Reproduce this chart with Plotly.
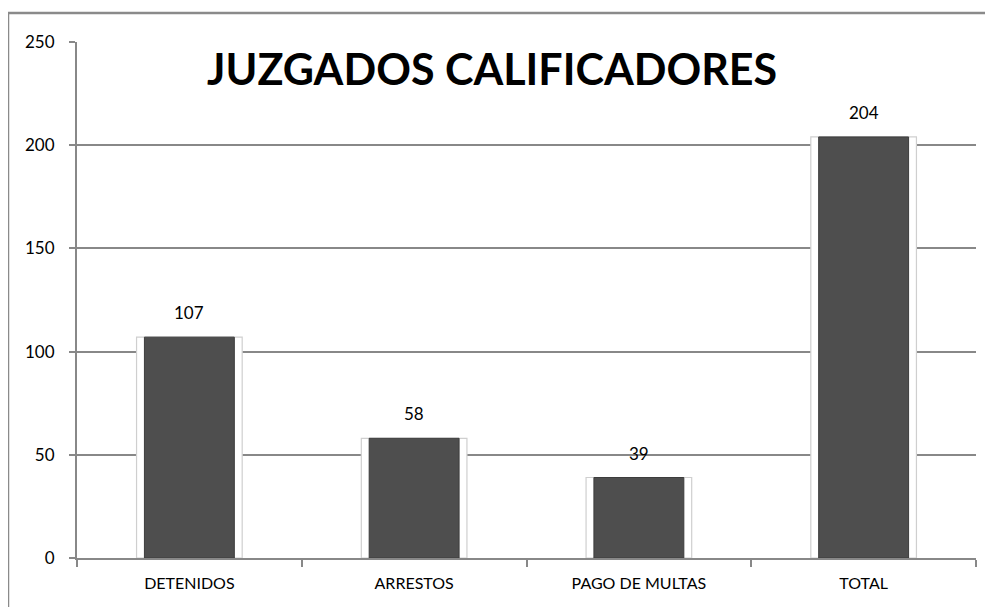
import plotly.graph_objects as go

categories = ["DETENIDOS", "ARRESTOS", "PAGO DE MULTAS", "TOTAL"]
values = [107, 58, 39, 204]
y_ticks = [0, 50, 100, 150, 200, 250]
title_text = "JUZGADOS CALIFICADORES"

FONT = "Lato, 'Open Sans', sans-serif"

# page offset from default body margin
OFF = 8
W, H = 993 - OFF, 607 - OFF
l, r, t, b = 77 - OFF, (W + OFF) - 976, 42 - OFF, (H + OFF) - 558
pw, ph = W - l - r, H - t - b

fig = go.Figure()
# light outline "glow" behind each bar
fig.add_trace(go.Bar(
    x=categories, y=values, width=0.47,
    marker=dict(color="rgba(255,255,255,1)", line=dict(color="#cfcfcf", width=1.2)),
    hoverinfo="skip", showlegend=False,
))
fig.add_trace(go.Bar(
    x=categories, y=values, width=0.40,
    marker=dict(color="#4e4e4e", line=dict(color="#3c3c3c", width=1)),
    showlegend=False,
))

for c, v in zip(categories, values):
    fig.add_annotation(x=c, y=v, text=str(v), showarrow=False, yanchor="bottom",
                       yshift=12, font=dict(family=FONT, size=17, color="#000"))

title_x = (492 - (l + OFF)) / pw
title_y = ((H + OFF - b) - 69) / ph
fig.add_annotation(xref="paper", yref="paper", x=title_x, y=title_y, text="<b>" + title_text + "</b>",
                   showarrow=False, xanchor="center", yanchor="middle",
                   font=dict(family=FONT, size=43, color="#000"))

# outer chart border
x0 = (8 - (l + OFF)) / pw
y1 = ((H + OFF - b) - 13) / ph
fig.add_shape(type="path", xref="paper", yref="paper",
              path=f"M {x0} -0.2 L {x0} {y1} L 1.1 {y1}",
              line=dict(color="#8a8a8a", width=2.5), layer="above")

fig.update_layout(
    width=W, height=H,
    margin=dict(l=l, r=r, t=t, b=b),
    paper_bgcolor="white", plot_bgcolor="white",
    barmode="overlay",
    font=dict(family=FONT, size=17, color="#000"),
    xaxis=dict(
        type="category", tickson="boundaries", ticks="outside", ticklen=7,
        tickcolor="#888", tickwidth=2, showline=True, linecolor="#888", linewidth=2,
        showgrid=False, tickfont=dict(size=16, color="#000"), range=[-0.5, 3.5],
        ticklabelstandoff=10,
    ),
    yaxis=dict(
        range=[0, 250], tickvals=y_ticks, ticks="outside", ticklen=6,
        tickcolor="#888", tickwidth=2, showline=True, linecolor="#888", linewidth=2,
        showgrid=True, gridcolor="#888", gridwidth=1.5, zeroline=False,
        tickfont=dict(size=17, color="#000"), ticklabelstandoff=11,
    ),
)

fig.write_html("out.html")
